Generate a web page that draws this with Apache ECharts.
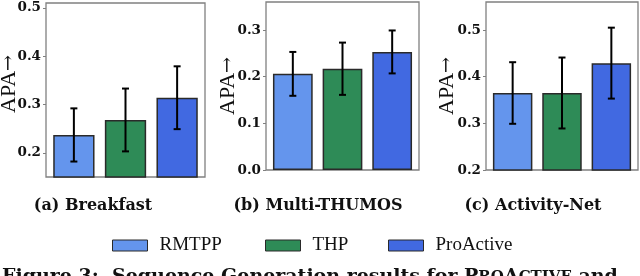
<!DOCTYPE html>
<html>
<head>
<meta charset="utf-8">
<script src="https://cdn.jsdelivr.net/npm/echarts@6/dist/echarts.min.js"></script>
<style>html,body{margin:0;padding:0;background:#fff}#c{width:640px;height:276px}</style>
</head>
<body>
<div id="c"></div>
<script>
// ---- data ----
var methods = ['RMTPP', 'THP', 'ProActive'];
var methodColors = ['#6495ED', '#2E8B57', '#4169E1'];
var panelTitles = ['(a) Breakfast', '(b) Multi-THUMOS', '(c) Activity-Net'];
var breakfastMean = [0.237, 0.268, 0.314];
var breakfastErr  = [0.055, 0.065, 0.065];
var thumosMean    = [0.206, 0.217, 0.253];
var thumosErr     = [0.047, 0.056, 0.046];
var activityMean  = [0.365, 0.365, 0.429];
var activityErr   = [0.066, 0.076, 0.076];
var breakfastTicks = [0.2, 0.3, 0.4, 0.5];
var thumosTicks    = [0.0, 0.1, 0.2, 0.3];
var activityTicks  = [0.2, 0.3, 0.4, 0.5];
var yLabelText = 'APA';
var yLabelArrow = '\u2192';

// ---- layout ----
var panels = [
  {mean: breakfastMean, err: breakfastErr, ticks: breakfastTicks, min: 0.15, max: 0.51,
   grid: {left: 46, top: 3, width: 159, height: 174}, ylab: [9, 84], cap: [93, 206]},
  {mean: thumosMean, err: thumosErr, ticks: thumosTicks, min: 0, max: 0.36,
   grid: {left: 266, top: 2, width: 153, height: 168}, ylab: [228, 86], cap: [318, 206]},
  {mean: activityMean, err: activityErr, ticks: activityTicks, min: 0.2, max: 0.56,
   grid: {left: 486, top: 2, width: 152, height: 168}, ylab: [447, 86], cap: [533, 206]}
];
var XMIN = -0.54, XMAX = 2.54;
var serifB = 'DejaVu Serif';
var serifR = 'Liberation Serif';

var grids = [], xAxes = [], yAxes = [], series = [], graphics = [];
panels.forEach(function (p, pi) {
  grids.push({left: p.grid.left, top: p.grid.top, width: p.grid.width, height: p.grid.height,
    show: true, borderColor: '#808080', borderWidth: 1.3, backgroundColor: 'transparent'});
  xAxes.push({type: 'value', gridIndex: pi, min: XMIN, max: XMAX,
    axisLine: {show: false, onZero: false}, axisTick: {show: false}, axisLabel: {show: false}, splitLine: {show: false}});
  yAxes.push({type: 'value', gridIndex: pi, min: p.min, max: p.max,
    axisLine: {show: false, onZero: false}, splitLine: {show: false},
    axisTick: {show: true, length: 3, customValues: p.ticks, lineStyle: {color: '#808080', width: 1}},
    axisLabel: {show: true, customValues: p.ticks, margin: 5, color: '#111',
      fontFamily: serifB, fontWeight: 'bold', fontSize: 13.5,
      formatter: function (v) { return v.toFixed(1); }}});
  var barW = 0.8 * p.grid.width / (XMAX - XMIN);
  methods.forEach(function (m, mi) {
    series.push({type: 'bar', name: m, xAxisIndex: pi, yAxisIndex: pi,
      barWidth: barW, barGap: '-100%',
      itemStyle: {color: methodColors[mi], borderColor: '#2a2a2a', borderWidth: 1.5},
      data: [[mi, p.mean[mi]]], z: 2, silent: true});
  });
  series.push({type: 'custom', xAxisIndex: pi, yAxisIndex: pi, z: 5, silent: true,
    data: methods.map(function (m, mi) { return [mi, p.mean[mi] - p.err[mi], p.mean[mi] + p.err[mi]]; }),
    renderItem: function (params, api) {
      var lo = api.coord([api.value(0), api.value(1)]);
      var hi = api.coord([api.value(0), api.value(2)]);
      var c = 3.5;
      var st = {stroke: '#000', lineWidth: 2};
      return {type: 'group', children: [
        {type: 'line', shape: {x1: lo[0], y1: lo[1], x2: hi[0], y2: hi[1]}, style: st},
        {type: 'line', shape: {x1: lo[0] - c, y1: lo[1], x2: lo[0] + c, y2: lo[1]}, style: st},
        {type: 'line', shape: {x1: hi[0] - c, y1: hi[1], x2: hi[0] + c, y2: hi[1]}, style: st}
      ]};
    }});
  graphics.push({type: 'text', x: p.ylab[0], y: p.ylab[1], rotation: Math.PI / 2,
    style: {text: '{a|' + yLabelText + '}{b|' + yLabelArrow + '}', align: 'center', verticalAlign: 'middle',
      rich: {a: {fontFamily: serifR, fontSize: 22, fill: '#111'},
             b: {fontFamily: 'DejaVu Serif', fontSize: 19, fill: '#111'}}}});
  graphics.push({type: 'text', x: p.cap[0], y: p.cap[1],
    style: {text: panelTitles[pi], fontFamily: serifB, fontWeight: 'bold', fontSize: 16, fill: '#111',
      align: 'center', verticalAlign: 'middle'}});
});

graphics.push({type: 'text', x: 2, y: 277,
  style: {text: '{a|Figure 3:  Sequence Generation results for P}{s|RO}{a|A}{s|CTIVE}{a| and}',
    align: 'left', verticalAlign: 'middle', fill: '#111',
    rich: {a: {fontFamily: serifB, fontWeight: 'bold', fontSize: 19, fill: '#111'},
           s: {fontFamily: serifB, fontWeight: 'bold', fontSize: 15, fill: '#111'}}}});

var legendLefts = [107, 260, 383];
var legends = methods.map(function (m, mi) {
  return {data: [m], left: legendLefts[mi], top: 231, itemWidth: 35, itemHeight: 11,
    selectedMode: false, icon: 'rect',
    itemStyle: {borderColor: '#2a2a2a', borderWidth: 1},
    textStyle: {fontFamily: serifR, fontSize: 19, color: '#111', padding: [0, 0, 0, 7]}};
});

var chart = echarts.init(document.getElementById('c'), null, {renderer: 'canvas'});
chart.setOption({
  animation: false,
  backgroundColor: '#fff',
  grid: grids, xAxis: xAxes, yAxis: yAxes, series: series,
  legend: legends, graphic: graphics
});
</script>
</body>
</html>
